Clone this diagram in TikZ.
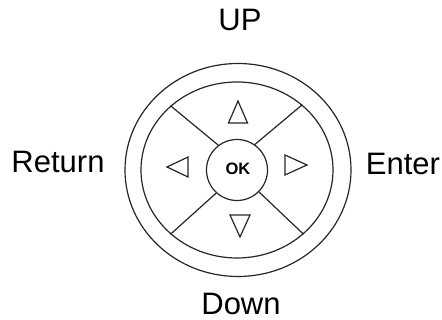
\documentclass[tikz,border=0pt]{standalone}
\usepackage{fontspec}
\setmainfont{Liberation Sans}
\usetikzlibrary{shapes.geometric}
\tikzset{
  ring/.style={draw=black!85, line width=1.2pt, ellipse, inner sep=0pt},
  divider/.style={draw=black!85, line width=1.2pt},
  arrowtri/.style={draw=black!85, line width=1.2pt, line join=miter},
  lbl/.style={anchor=base, inner sep=0pt, font=\fontsize{31}{37}\selectfont},
}
\begin{document}
\begin{tikzpicture}[x=1pt,y=1pt]
\useasboundingbox (0,0) rectangle (442,320);
\node[ring, minimum width=226pt, minimum height=213pt] (outer) at (238,150) {};
\node[ring, minimum width=192pt, minimum height=176pt] (inner) at (237,150) {};
\node[ring, circle, minimum size=61pt] (ok) at (237,150) {};
\node[font=\fontsize{16.5}{18}\selectfont\bfseries, inner sep=0pt] (oktext) at (238,151) {OK};
\draw[divider] (ok.127) -- (inner.136);
\draw[divider] (ok.55) -- (inner.45);
\draw[divider] (ok.228) -- (inner.224);
\draw[divider] (ok.315) -- (inner.316);
% arrows
\draw[arrowtri] (238,219) -- (247.5,197) -- (228.5,197) -- cycle;
\draw[arrowtri] (240,83) -- (250,105) -- (230,105) -- cycle;
\draw[arrowtri] (167,153) -- (188,163) -- (188,143) -- cycle;
\draw[arrowtri] (307,155) -- (285,165) -- (285,145) -- cycle;
% labels
\node[lbl] (up) at (240,289) {UP};
\node[lbl] (ret) at (58,147) {Return};
\node[lbl] (ent) at (403,145) {Enter};
\node[lbl] (down) at (241,5) {Down};
\end{tikzpicture}
\end{document}
